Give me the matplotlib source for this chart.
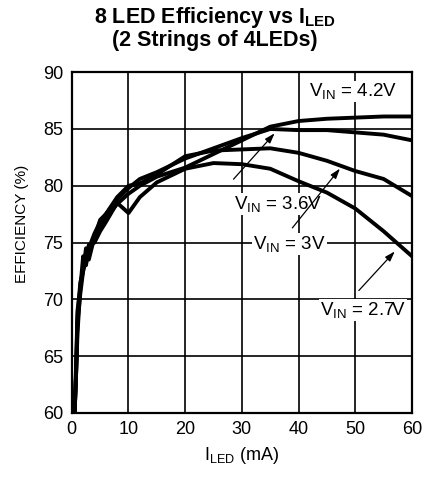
import numpy as np
import matplotlib
matplotlib.use('Agg')
import matplotlib.pyplot as plt

plt.rcParams['font.family'] = ['Liberation Sans', 'DejaVu Sans']
plt.rcParams['mathtext.default'] = 'regular'

# load current (mA)
i_led = [0.5, 0.8, 1, 1.5, 2, 2.5, 3, 4, 5, 6, 8, 10, 12, 15, 20, 25, 30, 35, 40, 45, 50, 55, 60]

# efficiency (%) per input voltage
eff_42 = [60, 64, 68, 70.5, 72.5, 73.5, 74.2, 75.3, 76.2, 77.2, 78.4, 79.3, 80.0, 80.8, 81.6, 82.8, 84.0, 85.2, 85.7, 85.9, 86.0, 86.1, 86.1]
eff_36 = [60, 65, 69, 71, 73.8, 73.0, 74.5, 75.8, 76.8, 77.5, 78.8, 79.8, 80.6, 81.2, 82.4, 83.3, 84.2, 85.0, 84.9, 84.9, 84.7, 84.5, 84.0]
eff_30 = [60, 64.5, 68.5, 71.5, 72.5, 74.5, 73.5, 75.5, 77.0, 77.5, 79.0, 80.0, 80.2, 81.0, 82.6, 83.1, 83.2, 83.3, 82.9, 82.2, 81.3, 80.6, 79.1]
eff_27 = [60, 64, 67, 71, 72.8, 73.5, 74.8, 75.0, 76.0, 76.8, 78.5, 77.6, 79.0, 80.3, 81.5, 82.0, 81.9, 81.5, 80.4, 79.4, 78.0, 76.0, 73.8]

fig = plt.figure(figsize=(4.30, 4.78), dpi=100)
ax = fig.add_axes([0.167, 0.136, 0.791, 0.713])

for e in [eff_42, eff_36, eff_30, eff_27]:
    ax.plot(i_led, e, color='black', lw=2.8, solid_joinstyle='round')

ax.set_xlim(0, 60)
ax.set_ylim(60, 90)
ax.set_xticks(np.arange(0, 61, 10))
ax.set_yticks(np.arange(60, 91, 5))
ax.grid(True, color='black', lw=1.2)
ax.set_axisbelow(True)
ax.tick_params(length=0, labelsize=13, pad=6)
for s in ax.spines.values():
    s.set_linewidth(1.6)

ax.set_xlabel(r'I$_{LED}$ (mA)', fontsize=13, labelpad=5)
ax.set_ylabel('EFFICIENCY (%)', fontsize=11, labelpad=9)
ax.yaxis.set_label_coords(-0.125, 0.555)

fig.text(0.5, 1 - 28 / 478, '8 LED Efficiency vs I$_{LED}$\n(2 Strings of 4LEDs)',
         ha='center', va='center', fontsize=15.5, fontweight='bold', linespacing=0.95)

box = dict(boxstyle='square,pad=0.05', fc='white', ec='none')
arrow = dict(arrowstyle='-|>,head_length=0.6,head_width=0.2', color='black', lw=0.9)

ax.text(49.6, 88.3, r'V$_{IN}$ = 4.2V', ha='center', va='center', fontsize=13.5, bbox=box)
ax.annotate('', xy=(36.1, 84.8), xytext=(28.2, 80.4), arrowprops=arrow)
ax.text(36.3, 78.4, r'V$_{IN}$ = 3.6V', ha='center', va='center', fontsize=13.5, bbox=box)
ax.annotate('', xy=(47.6, 81.7), xytext=(38.6, 76.1), arrowprops=arrow)
ax.text(38.4, 74.9, r'V$_{IN}$ = 3V', ha='center', va='center', fontsize=13.5, bbox=box)
ax.annotate('', xy=(57.3, 74.4), xytext=(50.3, 70.6), arrowprops=arrow)
ax.text(51.3, 69.1, r'V$_{IN}$ = 2.7V', ha='center', va='center', fontsize=13.5, bbox=box)

fig.savefig('out.png', dpi=100)
